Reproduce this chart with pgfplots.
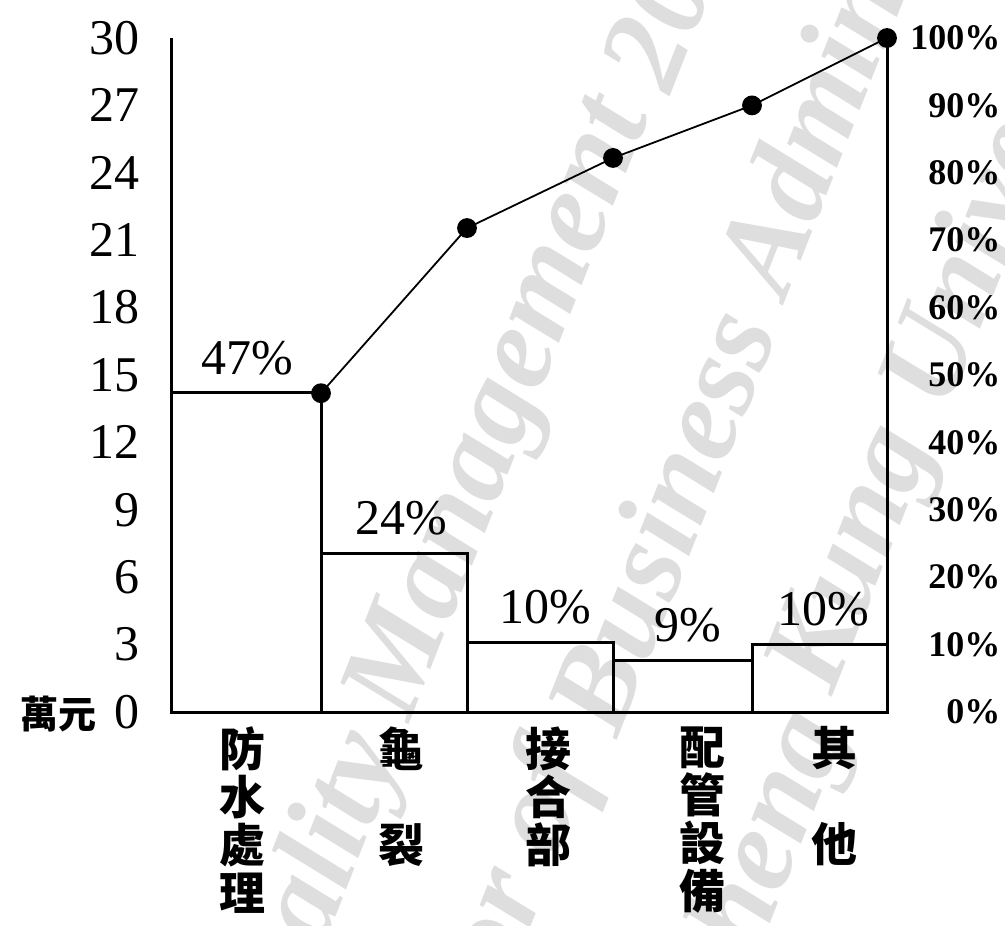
\documentclass[border=0pt]{standalone}
\usepackage{fontspec}
\setmainfont{Liberation Serif}
\newfontfamily\cjk{Noto Sans CJK TC}
\usepackage{pgfplots}
\pgfplotsset{compat=1.18}
\begin{document}
\begin{tikzpicture}
% faint watermark
\begin{scope}[every node/.style={text=black!13, font=\bfseries\itshape\fontsize{60}{60}\selectfont, rotate=68.5, inner sep=0pt}]
\node at (68pt,-99pt) {Quality};
\node at (166.5pt,151pt) {Management};
\node at (253pt,371.5pt) {2008};
\node at (142pt,-162pt) {Professor of};
\node at (244pt,96pt) {Business};
\node at (356pt,387pt) {Administration};
\node at (294pt,-79pt) {Cheng};
\node at (343pt,76pt) {Kung};
\node at (421pt,273pt) {University};
\end{scope}
\begin{axis}[
  scale only axis, width=357.5pt, height=337pt,
  xmin=172, xmax=887, ymin=0, ymax=30,
  axis x line*=bottom, axis y line*=left,
  axis line style={line width=1.5pt,-},
  ytick={0,3,...,30},
  xtick={242,401,548,702,834},
  xticklabels={{防\\水\\處\\理},{龜\\\phantom{龜}\\裂},{接\\合\\部},{配\\管\\設\\備},{其\\\phantom{其}\\他}},
  major tick length=0pt,
  /pgf/number format/assume math mode=true,
  yticklabel style={font=\fontsize{25}{25}\selectfont, inner sep=0pt, xshift=-16pt},
  xticklabel style={font=\cjk\bfseries\fontsize{23}{24}\selectfont, align=center, anchor=north, inner sep=0pt, yshift=-7pt},
  clip=false,
]
\addplot[ybar interval, draw=black, fill=none, line width=1.5pt]
  coordinates {(172,14.2) (321,7.05) (467,3.1) (613,2.3) (752,3.0) (887,3.0)};
\addplot[draw=none, mark=none, nodes near coords, point meta=explicit symbolic,
  nodes near coords style={anchor=center, yshift=17.5pt, font=\fontsize{25}{25}\selectfont, inner sep=0pt}]
  coordinates {(247.5,14.2)[47\%] (401,7.05)[24\%] (545,3.1)[10\%] (688,2.3)[9\%] (823,3.0)[10\%]};
\node[anchor=east, inner sep=0pt, font=\cjk\bfseries\fontsize{19}{19}\selectfont] at ([xshift=-37.5pt,yshift=-1pt]rel axis cs:0,0) {萬元};
\end{axis}
\begin{axis}[
  scale only axis, width=357.5pt, height=337pt,
  xmin=172, xmax=887, ymin=0, ymax=100,
  axis x line=none, axis y line*=right,
  axis line style={line width=1.5pt,-},
  ytick={0,10,...,100},
  /pgf/number format/assume math mode=true,
  yticklabel={\pgfmathprintnumber{\tick}\%},
  major tick length=0pt,
  yticklabel style={font=\bfseries\fontsize{18}{18}\selectfont, anchor=west, inner sep=0pt, xshift=9pt, text width=47.5pt, align=right},
  clip=false,
]
\addplot[black, line width=0.9pt, mark=*, mark size=4.5pt]
  coordinates {(321,47.3) (467,71.8) (613,82.2) (752,90.0) (887,100)};
\end{axis}
\pgfresetboundingbox
\path[use as bounding box] (-86pt,-106.5pt) rectangle (416.5pt,356pt);
\end{tikzpicture}
\end{document}
